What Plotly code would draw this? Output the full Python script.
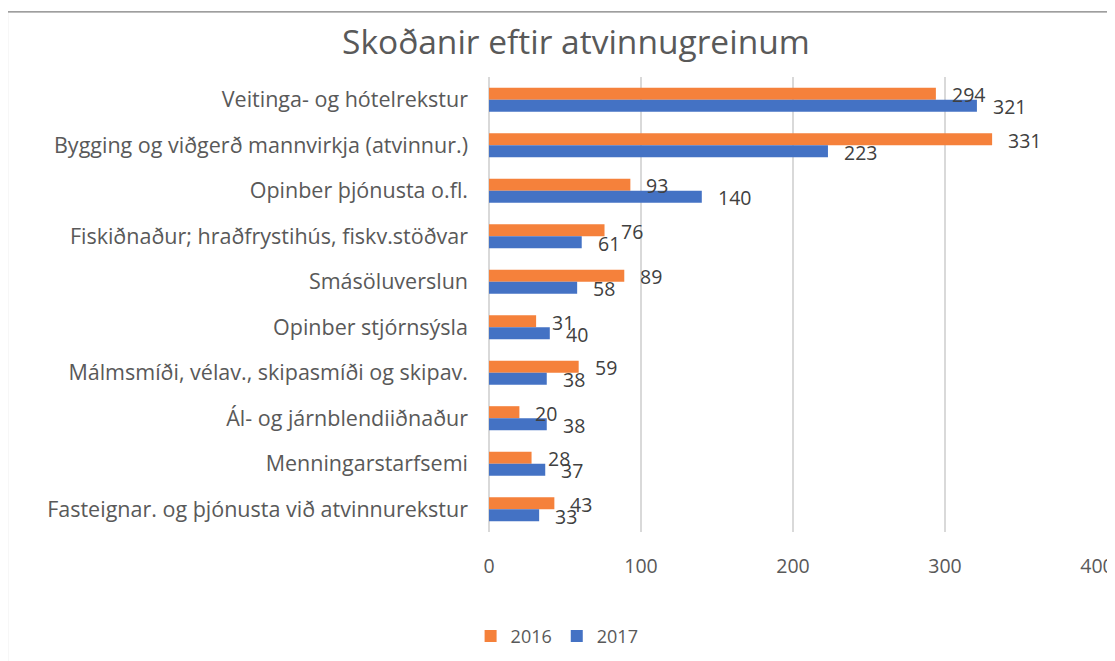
import plotly.graph_objects as go

categories = [
    "Veitinga- og hótelrekstur",
    "Bygging og viðgerð mannvirkja (atvinnur.)",
    "Opinber þjónusta o.fl.",
    "Fiskiðnaður; hraðfrystihús, fiskv.stöðvar",
    "Smásöluverslun",
    "Opinber stjórnsýsla",
    "Málmsmíði, vélav., skipasmíði og skipav.",
    "Ál- og járnblendiiðnaður",
    "Menningarstarfsemi",
    "Fasteignar. og þjónusta við atvinnurekstur",
]
values_2016 = [294, 331, 93, 76, 89, 31, 59, 20, 28, 43]
values_2017 = [321, 223, 140, 61, 58, 40, 38, 38, 37, 33]
x_ticks = [0, 100, 200, 300, 400]

ORANGE = "#F5813B"
BLUE = "#4472C4"
TXT = "#595959"
FONT = "Open Sans"

fig = go.Figure()
fig.add_trace(go.Bar(y=categories, x=values_2016, name="2016", orientation="h",
                     marker=dict(color=ORANGE, line=dict(width=0))))
fig.add_trace(go.Bar(y=categories, x=values_2017, name="2017", orientation="h",
                     marker=dict(color=BLUE, line=dict(width=0))))

# data labels (Excel-style, offset to the right of bar ends)
ann = []
for c, v in zip(categories, values_2016):
    ann.append(dict(x=v, y=c, text=str(v), showarrow=False, xanchor="left",
                    xshift=14, yshift=5, font=dict(size=19.5, color="#404040", family=FONT)))
for c, v in zip(categories, values_2017):
    ann.append(dict(x=v, y=c, text=str(v), showarrow=False, xanchor="left",
                    xshift=14, yshift=-7, font=dict(size=19.5, color="#404040", family=FONT)))

fig.update_layout(
    width=1107, height=653,
    margin=dict(l=481, r=18, t=69, b=129, autoexpand=False),
    paper_bgcolor="white", plot_bgcolor="white",
    barmode="group", bargap=0.47, bargroupgap=0,
    title=dict(text="Skoðanir eftir atvinnugreinum", x=0.513, xref="container", xanchor="center",
               y=0.948, yref="container", yanchor="middle",
               font=dict(size=33.5, color=TXT, family=FONT)),
    font=dict(family=FONT, color=TXT, size=18),
    xaxis=dict(range=[0, 400], tickvals=x_ticks, showgrid=True, gridcolor="#D9D9D9",
               gridwidth=1.5, zeroline=True, zerolinecolor="#D9D9D9", zerolinewidth=1.5,
               tickfont=dict(size=19.5, color=TXT), ticks="", ticklabelstandoff=20,
               automargin=False, fixedrange=True),
    yaxis=dict(autorange="reversed", tickfont=dict(size=21.5, color=TXT), ticks="",
               ticklabelstandoff=20, showgrid=False, showline=False, automargin=False),
    legend=dict(orientation="h", x=0.112, xanchor="center", y=-0.229,
                yanchor="middle", font=dict(size=18, color=TXT),
                traceorder="normal"),
    annotations=ann,
    shapes=[dict(type="rect", xref="paper", yref="paper", x0=-0.792, x1=1.05,
                 y0=-0.3, y1=1.143, line=dict(color="#7F7F7F", width=1.2), layer="below")],
)
fig.write_html("out.html")
